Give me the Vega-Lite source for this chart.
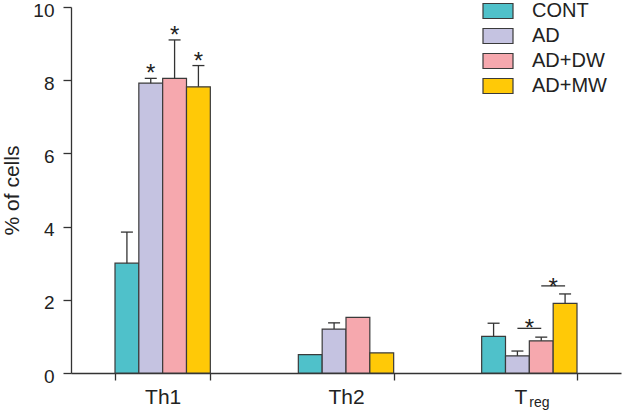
{
  "$schema": "https://vega.github.io/schema/vega-lite/v6.json",
  "autosize": "none",
  "width": 550,
  "height": 366,
  "padding": {"left": 71, "top": 7, "right": 1, "bottom": 40},
  "config": {
    "font": "Liberation Sans",
    "view": {"stroke": null},
    "axis": {"domainColor": "#333", "tickColor": "#333", "labelColor": "#222", "titleColor": "#222", "domainWidth": 1.3, "tickWidth": 1.3, "grid": false}
  },
  "datasets": {
    "bars": [
      {"group": "Th1", "cond": "CONT", "mean": 3.0, "upper": 3.85},
      {"group": "Th1", "cond": "AD", "mean": 7.92, "upper": 8.05},
      {"group": "Th1", "cond": "AD+DW", "mean": 8.05, "upper": 9.1},
      {"group": "Th1", "cond": "AD+MW", "mean": 7.82, "upper": 8.4},
      {"group": "Th2", "cond": "CONT", "mean": 0.5, "upper": null},
      {"group": "Th2", "cond": "AD", "mean": 1.2, "upper": 1.37},
      {"group": "Th2", "cond": "AD+DW", "mean": 1.52, "upper": null},
      {"group": "Th2", "cond": "AD+MW", "mean": 0.55, "upper": null},
      {"group": "Treg", "cond": "CONT", "mean": 1.0, "upper": 1.36},
      {"group": "Treg", "cond": "AD", "mean": 0.47, "upper": 0.6},
      {"group": "Treg", "cond": "AD+DW", "mean": 0.88, "upper": 0.98},
      {"group": "Treg", "cond": "AD+MW", "mean": 1.9, "upper": 2.16}
    ],
    "sig": [
      {"group": "Treg", "cond": "AD", "y": 1.22, "pair": "a"},
      {"group": "Treg", "cond": "AD+DW", "y": 1.22, "pair": "a"},
      {"group": "Treg", "cond": "AD+DW", "y": 2.38, "pair": "b"},
      {"group": "Treg", "cond": "AD+MW", "y": 2.38, "pair": "b"}
    ],
    "stars": [
      {"group": "Th1", "cond": "AD", "y": 8.05},
      {"group": "Th1", "cond": "AD+DW", "y": 9.1},
      {"group": "Th1", "cond": "AD+MW", "y": 8.4}
    ],
    "sigstars": [
      {"group": "Treg", "cond": "AD", "y": 1.1},
      {"group": "Treg", "cond": "AD+DW", "y": 2.2}
    ],
    "sub": [
      {"group": "Treg", "text": "reg", "y": -0.93}
    ]
  },
  "layer": [
    {
      "data": {"name": "bars"},
      "mark": {"type": "bar", "stroke": "#3a3a3a", "strokeWidth": 1.2, "opacity": 1},
      "encoding": {
        "x": {
          "field": "group", "type": "nominal",
          "scale": {"domain": ["Th1", "Th2", "Treg"], "paddingInner": 0.48, "paddingOuter": 0.24},
          "axis": {
            "title": null,
            "labelAngle": 0,
            "labelFontSize": 21,
            "labelPadding": 6,
            "tickSize": 7,
            "tickBand": "extent",
            "labelExpr": "datum.value == 'Treg' ? 'T' : datum.value",
            "labelOffset": {"condition": {"test": "datum.value == 'Treg'", "value": -9}, "value": 0}
          }
        },
        "xOffset": {
          "field": "cond", "type": "nominal",
          "scale": {"domain": ["CONT", "AD", "AD+DW", "AD+MW"], "paddingInner": 0, "paddingOuter": 0}
        },
        "y": {
          "field": "mean", "type": "quantitative",
          "scale": {"domain": [0, 10], "nice": false, "zero": true},
          "axis": {
            "title": "% of cells",
            "titleFontSize": 21,
            "titleFontWeight": "normal",
            "titlePadding": 10,
            "values": [0, 2, 4, 6, 8, 10],
            "labelFontSize": 19,
            "labelPadding": 9,
            "labelOffset": 3,
            "tickSize": 8
          }
        },
        "color": {
          "field": "cond", "type": "nominal",
          "scale": {"domain": ["CONT", "AD", "AD+DW", "AD+MW"], "range": ["#4FC1CA", "#C5C3E1", "#F6A8AE", "#FFC907"]},
          "legend": {
            "title": null,
            "orient": "none",
            "legendX": 417,
            "legendY": -6,
            "symbolType": "M-2,-1H2V1H-2Z",
            "symbolSize": 225,
            "symbolStrokeColor": "#3a3a3a",
            "symbolStrokeWidth": 1.2,
            "symbolOpacity": 1,
            "labelFontSize": 20,
            "labelColor": "#222",
            "labelOffset": 24,
            "rowPadding": 5
          }
        }
      }
    },
    {
      "data": {"name": "bars"},
      "transform": [{"filter": "isValid(datum.upper)"}],
      "mark": {"type": "rule", "color": "#333", "strokeWidth": 1.3},
      "encoding": {
        "x": {"field": "group", "type": "nominal"},
        "xOffset": {"field": "cond", "type": "nominal"},
        "y": {"field": "mean", "type": "quantitative"},
        "y2": {"field": "upper"}
      }
    },
    {
      "data": {"name": "bars"},
      "transform": [{"filter": "isValid(datum.upper)"}],
      "mark": {"type": "tick", "color": "#333", "thickness": 1.3, "size": 12, "opacity": 1},
      "encoding": {
        "x": {"field": "group", "type": "nominal"},
        "xOffset": {"field": "cond", "type": "nominal"},
        "y": {"field": "upper", "type": "quantitative"}
      }
    },
    {
      "data": {"name": "sig"},
      "mark": {"type": "line", "color": "#333", "strokeWidth": 1.3},
      "encoding": {
        "x": {"field": "group", "type": "nominal"},
        "xOffset": {"field": "cond", "type": "nominal"},
        "y": {"field": "y", "type": "quantitative"},
        "detail": {"field": "pair"}
      }
    },
    {
      "data": {"name": "stars"},
      "mark": {"type": "text", "text": "*", "fontSize": 24, "color": "#222", "baseline": "alphabetic", "dy": 3},
      "encoding": {
        "x": {"field": "group", "type": "nominal"},
        "xOffset": {"field": "cond", "type": "nominal"},
        "y": {"field": "y", "type": "quantitative"}
      }
    },
    {
      "data": {"name": "sigstars"},
      "mark": {"type": "text", "text": "*", "fontSize": 24, "color": "#222", "baseline": "alphabetic", "dx": 12, "dy": 3},
      "encoding": {
        "x": {"field": "group", "type": "nominal"},
        "xOffset": {"field": "cond", "type": "nominal"},
        "y": {"field": "y", "type": "quantitative"}
      }
    },
    {
      "data": {"name": "sub"},
      "mark": {"type": "text", "fontSize": 14, "color": "#222", "align": "left", "baseline": "alphabetic", "dx": 0},
      "encoding": {
        "x": {"field": "group", "type": "nominal"},
        "y": {"field": "y", "type": "quantitative"},
        "text": {"field": "text"}
      }
    }
  ]
}
